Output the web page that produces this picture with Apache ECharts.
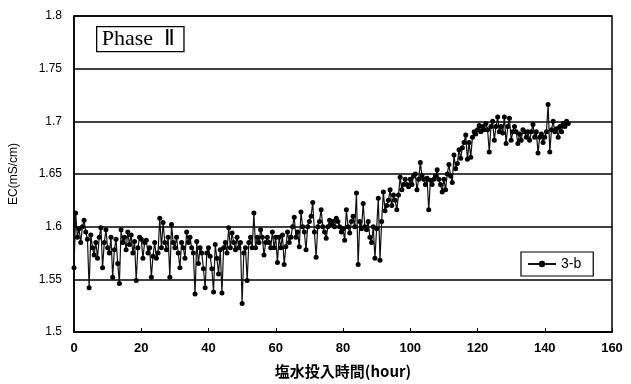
<!DOCTYPE html>
<html>
<head>
<meta charset="utf-8">
<script src="https://cdn.jsdelivr.net/npm/echarts@6/dist/echarts.min.js"></script>
<style>
  html, body { margin: 0; padding: 0; background: #fff; }
  #chart { width: 631px; height: 384px; }
</style>
</head>
<body>
<div id="chart"></div>
<script>
// EC readings, one every 0.5 hour from 0 h
const ecValues = [
  1.561, 1.613, 1.59, 1.598, 1.585, 1.60, 1.606, 1.595, 1.588, 1.542,
  1.592, 1.58, 1.573, 1.585, 1.57, 1.59, 1.599, 1.561, 1.585, 1.597,
  1.58, 1.575, 1.59, 1.552, 1.578, 1.588, 1.565, 1.546, 1.597, 1.585,
  1.59, 1.578, 1.595, 1.583, 1.592, 1.575, 1.586, 1.549, 1.58, 1.59,
  1.588, 1.57, 1.585, 1.587, 1.575, 1.58, 1.552, 1.572, 1.585, 1.57,
  1.575, 1.608, 1.58, 1.604, 1.585, 1.578, 1.59, 1.552, 1.602, 1.585,
  1.58, 1.59, 1.575, 1.561, 1.585, 1.58, 1.57, 1.595, 1.585, 1.59,
  1.58, 1.575, 1.536, 1.586, 1.565, 1.58, 1.575, 1.56, 1.542, 1.575,
  1.58, 1.572, 1.56, 1.538, 1.583, 1.57, 1.555, 1.578, 1.537, 1.58,
  1.585, 1.575, 1.599, 1.58, 1.594, 1.585, 1.578, 1.59, 1.58, 1.585,
  1.527, 1.575, 1.58, 1.549, 1.585, 1.59, 1.58, 1.613, 1.58, 1.59,
  1.585, 1.597, 1.59, 1.573, 1.585, 1.59, 1.585, 1.58, 1.595, 1.58,
  1.59, 1.566, 1.59, 1.58, 1.592, 1.564, 1.581, 1.595, 1.585, 1.59,
  1.60, 1.609, 1.59, 1.595, 1.581, 1.614, 1.60, 1.595, 1.578, 1.60,
  1.605, 1.61, 1.623, 1.595, 1.571, 1.60, 1.605, 1.616, 1.60, 1.595,
  1.589, 1.60, 1.606, 1.602, 1.605, 1.60, 1.608, 1.605, 1.60, 1.595,
  1.598, 1.587, 1.616, 1.60, 1.594, 1.605, 1.61, 1.60, 1.632, 1.564,
  1.605, 1.598, 1.622, 1.60, 1.597, 1.605, 1.59, 1.585, 1.60, 1.57,
  1.598, 1.627, 1.568, 1.605, 1.633, 1.615, 1.62, 1.625, 1.635, 1.62,
  1.63, 1.625, 1.616, 1.63, 1.647, 1.635, 1.64, 1.645, 1.64, 1.638,
  1.645, 1.64, 1.648, 1.65, 1.635, 1.645, 1.661, 1.648, 1.645, 1.64,
  1.646, 1.616, 1.644, 1.64, 1.645, 1.648, 1.654, 1.645, 1.64, 1.633,
  1.645, 1.635, 1.65, 1.659, 1.648, 1.642, 1.668, 1.655, 1.66, 1.673,
  1.665, 1.675, 1.68, 1.687, 1.664, 1.68, 1.666, 1.685, 1.69, 1.688,
  1.692, 1.696, 1.69, 1.695, 1.692, 1.698, 1.692, 1.671, 1.695, 1.70,
  1.682, 1.695, 1.704, 1.69, 1.695, 1.689, 1.704, 1.679, 1.695, 1.703,
  1.682, 1.69, 1.695, 1.69, 1.679, 1.688, 1.682, 1.692, 1.69, 1.685,
  1.69, 1.682, 1.69, 1.697, 1.685, 1.69, 1.67, 1.685, 1.688, 1.68,
  1.685, 1.69, 1.716, 1.671, 1.692, 1.70, 1.69, 1.693, 1.685, 1.695,
  1.69, 1.698, 1.695, 1.70, 1.698
];
const stepHours = 0.5;
const seriesName = '3-b';
const phaseLabel = 'Phase  Ⅱ';

const chart = echarts.init(document.getElementById('chart'));

const points = ecValues.map((v, i) => [i * stepHours, v]);

const option = {
  animation: false,
  backgroundColor: '#fff',
  textStyle: { fontFamily: 'Liberation Sans, Arial, sans-serif' },
  grid: {
    left: 71, right: 19, top: 16, bottom: 52,
    show: true,
    borderColor: '#000',
    borderWidth: 1.5
  },
  xAxis: {
    type: 'value',
    min: 0, max: 160, interval: 20,
    name: '塩水投入時間(hour)',
    nameLocation: 'middle',
    nameGap: 32,
    nameTextStyle: { color: '#000', fontSize: 15, fontFamily: 'Noto Sans CJK JP', fontWeight: 'bold' },
    axisLine: { lineStyle: { color: '#000', width: 1.5 } },
    axisTick: { inside: true, length: 4, lineStyle: { color: '#000' } },
    axisLabel: { color: '#000', fontSize: 13, fontWeight: 'bold', margin: 10 },
    splitLine: { show: false }
  },
  yAxis: {
    type: 'value',
    min: 1.5, max: 1.8, interval: 0.05,
    name: 'EC(mS/cm)',
    nameLocation: 'middle',
    nameGap: 54,
    nameTextStyle: { color: '#000', fontSize: 12 },
    axisLine: { show: true, lineStyle: { color: '#000', width: 1.5 } },
    axisTick: { show: false },
    axisLabel: { color: '#000', fontSize: 12, margin: 12 },
    splitLine: { show: true, lineStyle: { color: '#000', width: 1.5 } }
  },
  legend: {
    left: 521, top: 252,
    orient: 'horizontal',
    borderColor: '#000',
    borderWidth: 1.2,
    padding: [5, 12, 5, 6],
    itemWidth: 28, itemHeight: 8,
    itemGap: 6,
    textStyle: { color: '#000', fontSize: 14 },
    data: [seriesName]
  },
  graphic: [{
    type: 'text',
    left: 96, top: 26,
    style: {
      text: phaseLabel,
      font: '22px "Liberation Serif", "Times New Roman", serif',
      fill: '#000',
      borderColor: '#000',
      borderWidth: 1.3,
      padding: [2, 9, 1, 5]
    }
  }],
  series: [{
    name: seriesName,
    type: 'line',
    data: points,
    symbol: 'circle',
    symbolSize: 5,
    itemStyle: { color: '#000' },
    lineStyle: { color: '#111', width: 1.2 }
  }]
};

chart.setOption(option);
</script>
</body>
</html>
